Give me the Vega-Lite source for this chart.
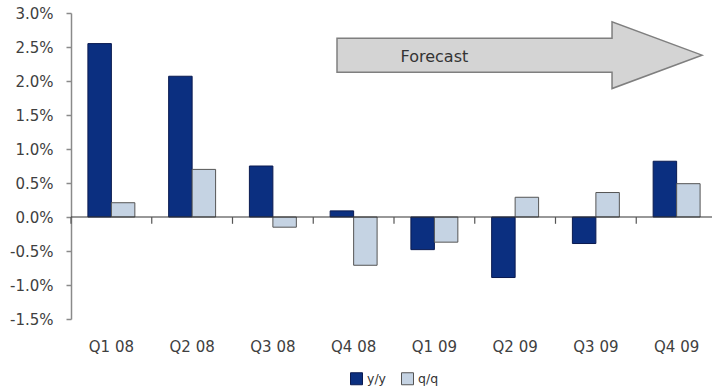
{
  "$schema": "https://vega.github.io/schema/vega-lite/v6.json",
  "autosize": "none",
  "width": 646,
  "height": 306,
  "padding": {"left": 71, "top": 13, "right": 0, "bottom": 73},
  "background": "white",
  "config": {
    "view": {"stroke": null},
    "font": "DejaVu Sans",
    "axis": {"labelFont": "DejaVu Sans", "labelColor": "#404040"}
  },
  "datasets": {
    "growth": [
      {"quarter": "Q1 08", "series": "y/y", "value": 2.55},
      {"quarter": "Q1 08", "series": "q/q", "value": 0.21},
      {"quarter": "Q2 08", "series": "y/y", "value": 2.07},
      {"quarter": "Q2 08", "series": "q/q", "value": 0.70},
      {"quarter": "Q3 08", "series": "y/y", "value": 0.75},
      {"quarter": "Q3 08", "series": "q/q", "value": -0.15},
      {"quarter": "Q4 08", "series": "y/y", "value": 0.09},
      {"quarter": "Q4 08", "series": "q/q", "value": -0.71},
      {"quarter": "Q1 09", "series": "y/y", "value": -0.48},
      {"quarter": "Q1 09", "series": "q/q", "value": -0.37},
      {"quarter": "Q2 09", "series": "y/y", "value": -0.89},
      {"quarter": "Q2 09", "series": "q/q", "value": 0.29},
      {"quarter": "Q3 09", "series": "y/y", "value": -0.39},
      {"quarter": "Q3 09", "series": "q/q", "value": 0.36},
      {"quarter": "Q4 09", "series": "y/y", "value": 0.82},
      {"quarter": "Q4 09", "series": "q/q", "value": 0.49}
    ]
  },
  "layer": [
    {
      "data": {"name": "growth"},
      "mark": {"type": "bar", "strokeWidth": 1},
      "encoding": {
        "x": {
          "field": "quarter",
          "type": "nominal",
          "title": null,
          "scale": {
            "domain": ["Q1 08", "Q2 08", "Q3 08", "Q4 08", "Q1 09", "Q2 09", "Q3 09", "Q4 09"],
            "paddingInner": 0,
            "paddingOuter": 0
          },
          "axis": {
            "orient": "bottom",
            "domain": false,
            "ticks": false,
            "labelAngle": 0,
            "labelFontSize": 15,
            "labelPadding": 20,
            "labelOverlap": false,
            "title": null
          }
        },
        "xOffset": {
          "field": "series",
          "type": "nominal",
          "sort": ["y/y", "q/q"],
          "scale": {"paddingInner": 0, "paddingOuter": 0.72}
        },
        "y": {
          "field": "value",
          "type": "quantitative",
          "title": null,
          "scale": {"domain": [-1.5, 3.0], "nice": false, "zero": false},
          "axis": {
            "values": [-1.5, -1.0, -0.5, 0, 0.5, 1.0, 1.5, 2.0, 2.5, 3.0],
            "tickCount": 20,
            "labelExpr": "(datum.value < 0 ? '-' : '') + format(abs(datum.value), '.1f') + '%'",
            "labelOverlap": false,
            "labelBound": false,
            "grid": false,
            "domainColor": "#8a8a8a",
            "domainWidth": 1.5,
            "tickColor": "#8a8a8a",
            "tickWidth": 1.5,
            "tickSize": 5,
            "labelFontSize": 15,
            "labelPadding": 13,
            "title": null
          }
        },
        "color": {
          "field": "series",
          "type": "nominal",
          "scale": {"domain": ["y/y", "q/q"], "range": ["#0b2f80", "#c5d3e3"]},
          "legend": {
            "orient": "none",
            "legendX": 279,
            "legendY": 359,
            "direction": "horizontal",
            "title": null,
            "symbolType": "square",
            "symbolSize": 144,
            "symbolStrokeWidth": 1,
            "labelFontSize": 12.5,
            "labelFont": "DejaVu Sans",
            "labelColor": "#333333",
            "columnPadding": 12,
            "labelOffset": 4
          }
        },
        "stroke": {
          "field": "series",
          "type": "nominal",
          "scale": {"domain": ["y/y", "q/q"], "range": ["#0a1a50", "#555555"]},
          "legend": {
            "orient": "none",
            "legendX": 279,
            "legendY": 359,
            "direction": "horizontal",
            "title": null,
            "symbolType": "square",
            "symbolSize": 144,
            "symbolStrokeWidth": 1,
            "labelFontSize": 12.5,
            "labelFont": "DejaVu Sans",
            "labelColor": "#333333",
            "columnPadding": 12,
            "labelOffset": 4
          }
        }
      }
    },
    {
      "data": {"values": [{}]},
      "mark": {"type": "rule", "color": "#333333", "strokeWidth": 1.2},
      "encoding": {"y": {"datum": 0, "title": null}}
    },
    {
      "data": {"name": "growth"},
      "transform": [{"filter": "datum.series === 'y/y'"}],
      "mark": {"type": "rule", "color": "#555555", "strokeWidth": 1.2},
      "encoding": {
        "x": {"field": "quarter", "type": "nominal", "bandPosition": 0, "title": null},
        "y": {"datum": 0, "title": null},
        "y2": {"datum": -0.1}
      }
    },
    {
      "data": {"values": [{}]},
      "mark": {
        "type": "point",
        "filled": true,
        "opacity": 1,
        "fill": "#d4d4d4",
        "stroke": "#7f7f7f",
        "strokeWidth": 1.5,
        "size": 133225,
        "shape": "M-0.976,-0.093 L0.531,-0.093 L0.531,-0.183 L1.024,0 L0.531,0.183 L0.531,0.093 L-0.976,0.093 Z"
      },
      "encoding": {
        "x": {"datum": "Q2 09", "title": null},
        "y": {"datum": 2.38, "title": null}
      }
    },
    {
      "data": {"values": [{"label": "Forecast"}]},
      "mark": {"type": "text", "fontSize": 16, "font": "DejaVu Sans", "color": "#333333"},
      "encoding": {
        "x": {"datum": "Q1 09", "title": null},
        "y": {"datum": 2.35, "title": null},
        "text": {"field": "label"}
      }
    }
  ]
}
